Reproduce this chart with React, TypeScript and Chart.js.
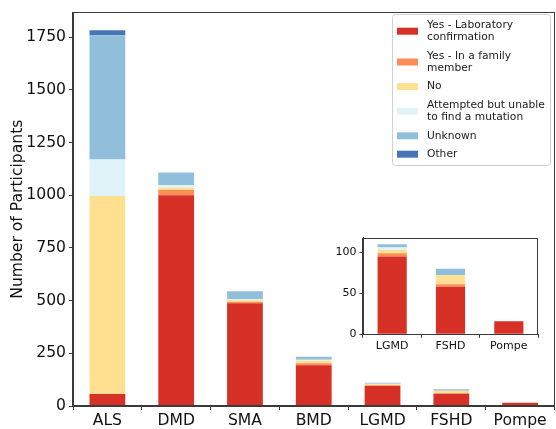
import { useEffect, useRef } from "react";
import { Chart, registerables } from "chart.js";

Chart.register(...registerables);

// Conditions on the main axis
const categories = ["ALS", "DMD", "SMA", "BMD", "LGMD", "FSHD", "Pompe"];

// Participants per genetic-testing answer, one value per condition
const labConfirmed = [57, 1000, 488, 193, 95, 58, 16];
const familyMember = [0, 25, 5, 10, 4, 3, 0];
const noTesting = [939, 12, 10, 12, 4, 11, 0];
const attemptedNoMutation = [174, 10, 3, 5, 3, 0, 0];
const unknownStatus = [589, 61, 38, 14, 4, 8, 0];
const otherStatus = [24, 0, 0, 0, 0, 0, 0];

// Smaller conditions repeated in the zoomed panel
const insetCategories = ["LGMD", "FSHD", "Pompe"];

const seriesLabels: string[][] = [
  ["Yes - Laboratory", "confirmation"],
  ["Yes - In a family", "member"],
  ["No"],
  ["Attempted but unable", "to find a mutation"],
  ["Unknown"],
  ["Other"],
];
const seriesColors = ["#d73027", "#fc8d59", "#fee090", "#e0f3f8", "#91bfdb", "#4575b4"];
const seriesValues = [labConfirmed, familyMember, noTesting, attemptedNoMutation, unknownStatus, otherStatus];

const FONT = "'DejaVu Sans', sans-serif";

const mainYMax = 1868;
const mainYStep = 250;
const insetYMax = 118;
const insetYStep = 50;

function buildDatasets(indices: number[], barPercentage: number) {
  return seriesValues.map((vals, s) => ({
    label: seriesLabels[s].join(" "),
    data: indices.map((i) => vals[i]),
    backgroundColor: seriesColors[s],
    borderWidth: 0,
    categoryPercentage: 1,
    barPercentage,
    stack: "all",
  }));
}

// Box around the plotting area, with a white plot background
const framePlugin = {
  id: "frame",
  beforeDraw(chart: any) {
    const { ctx, chartArea: a } = chart;
    ctx.save();
    ctx.fillStyle = "#ffffff";
    ctx.fillRect(a.left, a.top, a.right - a.left, a.bottom - a.top);
    ctx.restore();
  },
  afterDraw(chart: any) {
    const { ctx, chartArea: a } = chart;
    ctx.save();
    ctx.strokeStyle = "#3a3a3a";
    ctx.lineWidth = 1;
    ctx.strokeRect(Math.round(a.left) - 0.5, Math.round(a.top) + 0.5, Math.round(a.right - a.left), Math.round(a.bottom - a.top) - 1);
    ctx.restore();
  },
};

// Legend with wrapped labels in the upper right corner
const wrappedLegendPlugin = {
  id: "wrappedLegend",
  afterDraw(chart: any) {
    const { ctx } = chart;
    const boxX = 392.5;
    const boxY = 14.5;
    const boxW = 158;
    const boxH = 151;
    const lineH = 12.4;
    const gap = 6;
    ctx.save();
    ctx.beginPath();
    const r = 3;
    ctx.moveTo(boxX + r, boxY);
    ctx.lineTo(boxX + boxW - r, boxY);
    ctx.arcTo(boxX + boxW, boxY, boxX + boxW, boxY + r, r);
    ctx.lineTo(boxX + boxW, boxY + boxH - r);
    ctx.arcTo(boxX + boxW, boxY + boxH, boxX + boxW - r, boxY + boxH, r);
    ctx.lineTo(boxX + r, boxY + boxH);
    ctx.arcTo(boxX, boxY + boxH, boxX, boxY + boxH - r, r);
    ctx.lineTo(boxX, boxY + r);
    ctx.arcTo(boxX, boxY, boxX + r, boxY, r);
    ctx.closePath();
    ctx.fillStyle = "rgba(255,255,255,0.85)";
    ctx.fill();
    ctx.strokeStyle = "#d0d0d0";
    ctx.lineWidth = 1;
    ctx.stroke();

    ctx.font = `10.7px ${FONT}`;
    ctx.textBaseline = "middle";
    ctx.textAlign = "left";
    let top = 18.8;
    chart.data.datasets.forEach((ds: any, i: number) => {
      const lines = seriesLabels[i];
      const h = lines.length * lineH;
      ctx.fillStyle = ds.backgroundColor;
      ctx.fillRect(397, top + h / 2 - 3.5, 21, 7);
      ctx.fillStyle = "#1a1a1a";
      lines.forEach((t, k) => ctx.fillText(t, 427, top + lineH * (k + 0.5)));
      top += h + gap;
    });
    ctx.restore();
  },
};

function axisCommon(size: number, tickLen: number, pad: number) {
  return {
    grid: { display: true, drawOnChartArea: false, drawTicks: true, tickLength: tickLen, color: "#3a3a3a", lineWidth: 1 },
    border: { display: true, color: "#3a3a3a", width: 1 },
    ticks: { color: "#111111", font: { family: FONT, size }, padding: pad },
  };
}

const plainNumber = (v: any) => String(v);

export default function App() {
  const mainRef = useRef<HTMLCanvasElement | null>(null);
  const insetRef = useRef<HTMLCanvasElement | null>(null);

  useEffect(() => {
    if (!mainRef.current || !insetRef.current) return;

    const mainX = axisCommon(15.6, 4, 2);
    const mainY = axisCommon(15.6, 4, 3);
    const main = new Chart(mainRef.current, {
      type: "bar",
      data: { labels: categories, datasets: buildDatasets([0, 1, 2, 3, 4, 5, 6], 0.52) },
      options: {
        animation: false,
        responsive: false,
        maintainAspectRatio: false,
        layout: { padding: { top: 12, right: 1.5, left: 0, bottom: 0 } },
        plugins: { legend: { display: false }, tooltip: { enabled: false } },
        scales: {
          x: {
            stacked: true,
            ...mainX,
            afterFit(s: any) {
              s.height = 23;
            },
          },
          y: {
            stacked: true,
            min: 0,
            max: mainYMax,
            ...mainY,
            ticks: { ...mainY.ticks, stepSize: mainYStep, includeBounds: false, callback: plainNumber },
            title: {
              display: true,
              text: "Number of Participants",
              color: "#111111",
              font: { family: FONT, size: 15.6 },
              padding: { top: 8.5, bottom: 0 },
            },
            afterFit(s: any) {
              s.width = 73;
            },
          },
        },
      } as any,
      plugins: [framePlugin, wrappedLegendPlugin],
    });

    const insetIdx = insetCategories.map((c) => categories.indexOf(c));
    const inX = axisCommon(11, 3.5, 2);
    const inY = axisCommon(11, 3.5, 3);
    const inset = new Chart(insetRef.current, {
      type: "bar",
      data: { labels: insetCategories, datasets: buildDatasets(insetIdx, 0.5) },
      options: {
        animation: false,
        responsive: false,
        maintainAspectRatio: false,
        layout: { padding: { top: 4.7, right: 3, left: 0, bottom: 0 } },
        plugins: { legend: { display: false }, tooltip: { enabled: false } },
        scales: {
          x: {
            stacked: true,
            ...inX,
            afterFit(s: any) {
              s.height = 23.7;
            },
          },
          y: {
            stacked: true,
            min: 0,
            max: insetYMax,
            ...inY,
            ticks: { ...inY.ticks, stepSize: insetYStep, includeBounds: false, callback: plainNumber },
            afterFit(s: any) {
              s.width = 38;
            },
          },
        },
      } as any,
      plugins: [framePlugin],
    });

    return () => {
      main.destroy();
      inset.destroy();
    };
  }, []);

  return (
    <div style={{ position: "absolute", left: 0, top: 0, width: 556, height: 429, background: "#ffffff" }}>
      <canvas ref={mainRef} width={556} height={429} style={{ position: "absolute", left: 0, top: 0, width: 556, height: 429 }} />
      <canvas ref={insetRef} width={216} height={130} style={{ position: "absolute", left: 325, top: 228, width: 216, height: 130 }} />
    </div>
  );
}
